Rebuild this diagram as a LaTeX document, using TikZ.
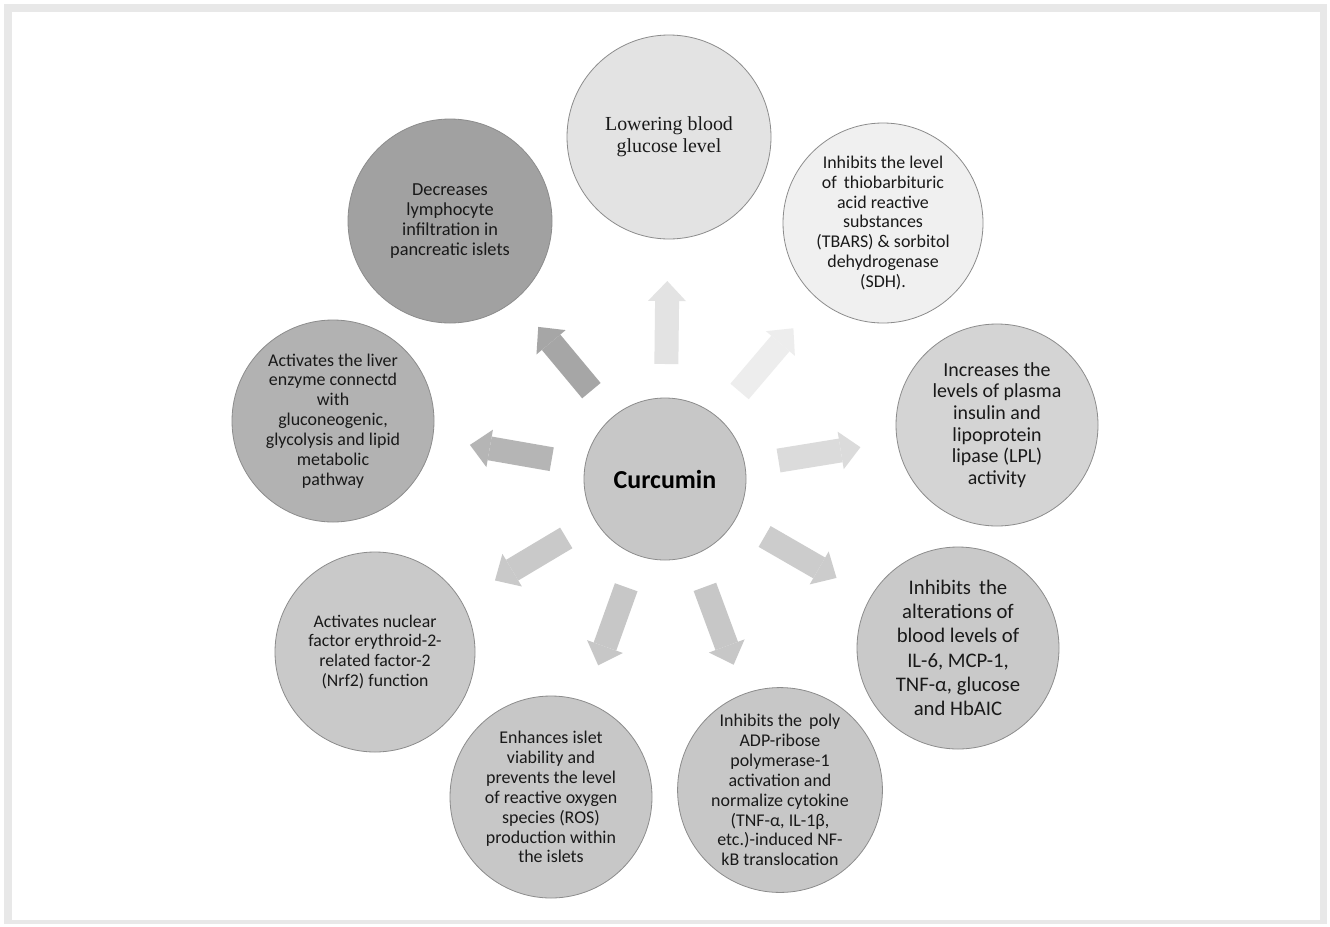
\documentclass[tikz,border=0pt]{standalone}
\usepackage{fontspec}
\setmainfont{Carlito}
\newfontfamily\timesface{Liberation Serif}
\usepackage{tikz}
\usetikzlibrary{calc}
\usetikzlibrary{arrows.meta}

\definecolor{framegray}{HTML}{E8E8E8}
\definecolor{edgegray}{HTML}{8C8C8C}

\tikzset{
    bubble/.style={circle,draw=edgegray,line width=0.8bp,inner sep=0pt,
        minimum size=#1,align=center,text=black!90},
    pointer/.style={draw=#1,line width=24bp,line cap=butt,
        -{Triangle[length=20bp,width=38bp,line width=0bp]}}
}

\begin{document}
\begin{tikzpicture}[x=1bp,y=-1bp]
    \useasboundingbox (0,0) rectangle (1330,926);
    \fill[framegray] (4,4) rectangle (1327,924);
    \fill[white] (12,12) rectangle (1320,920);

    \node[bubble=162bp,fill=black!22,font=\bfseries\fontsize{26}{30}\selectfont,text=black] (cur) at (665,479) {Curcumin};

    \node[bubble=204bp,fill=black!11,font=\timesface\fontsize{20}{22.5}\selectfont] (n1) at (669,137)
        {Lowering blood\\glucose level};
    \node[bubble=200bp,fill=black!6,font=\fontsize{18}{20}\selectfont] (n2) at (883,223)
        {Inhibits the level\\of\, thiobarbituric\\acid reactive\\substances\\(TBARS) \& sorbitol\\dehydrogenase\\(SDH).};
    \node[bubble=202bp,fill=black!17,font=\fontsize{20}{21.8}\selectfont] (n3) at (997,425)
        {Increases the\\levels of plasma\\insulin and\\lipoprotein\\lipase (LPL)\\activity};
    \node[bubble=202bp,fill=black!21,font=\fontsize{20.8}{24.4}\selectfont] (n4) at (958,648)
        {Inhibits\, the\\alterations of\\blood levels of\\IL-6, MCP-1,\\TNF-α, glucose\\and HbAIC};
    \node[bubble=204bp,fill=black!22,font=\fontsize{18}{20}\selectfont] (n5) at (780,790)
        {Inhibits the\, poly\\ADP-ribose\\polymerase-1\\activation and\\normalize cytokine\\(TNF-α, IL-1β,\\etc.)-induced NF-\\kB translocation};
    \node[bubble=202bp,fill=black!22,font=\fontsize{18}{20}\selectfont] (n6) at (551,797)
        {Enhances islet\\viability and\\prevents the level\\of reactive oxygen\\species (ROS)\\production within\\the islets};
    \node[bubble=200bp,fill=black!21,font=\fontsize{17.8}{20}\selectfont] (n7) at (375,652)
        {Activates nuclear\\factor erythroid-2-\\related factor-2\\(Nrf2) function};
    \node[bubble=202bp,fill=black!30,font=\fontsize{18}{20}\selectfont] (n8) at (333,421)
        {Activates the liver\\enzyme connectd\\with\\gluconeogenic,\\glycolysis and lipid\\metabolic\\pathway};
    \node[bubble=204bp,fill=black!37,font=\fontsize{18.4}{20.3}\selectfont] (n9) at (450,221)
        {Decreases\\lymphocyte\\infiltration in\\pancreatic islets};

    % block arrows out of the centre
    \foreach \to/\shade in {n1/11,n2/7,n3/14,n4/20,n5/22,n6/22,n7/21,n8/29,n9/35}
        \draw[pointer=black!\shade] ($(cur)!115bp!(\to)$) -- ($(cur)!198bp!(\to)$);
\end{tikzpicture}
\end{document}
